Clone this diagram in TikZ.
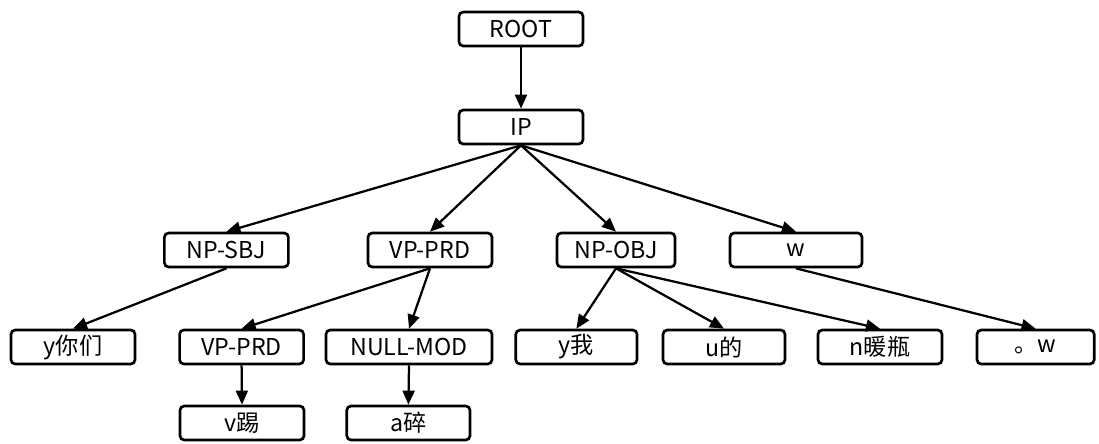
\documentclass[tikz,border=0pt]{standalone}
\usepackage{fontspec}
\setmainfont{Noto Sans CJK SC}
\usepackage{tikz}
\usetikzlibrary{arrows.meta}

\begin{document}
\begin{tikzpicture}
  \def\a{-6.25}
  \def\b{-8.675}
  \def\c{-10.575}
  \tikzset{box/.style={draw,rounded corners=3pt,line width=1.9pt,minimum height=0.85cm,minimum width=3.1cm,inner sep=0pt,font=\fontsize{16.5}{19}\selectfont}}
  \tikzset{transition/.style={-{Triangle[length=10pt,width=8.5pt]},line width=1.6pt}}
  \useasboundingbox (0,0) rectangle (27.475,-11.075);
  \node[box] (root) at (13.025,-0.725) {ROOT};
  \node[box] (ip) at (13.025,-3.175) {IP};
  \node[box] (npSbj) at (5.66,\a) {NP-SBJ};
  \node[box] (vpPrd) at (10.75,\a) {VP-PRD};
  \node[box,minimum width=2.95cm] (npObj) at (15.4,\a) {NP-OBJ};
  \node[box,minimum width=3.3cm] (w) at (19.9,\a) {w};
  \node[box] (yNimen) at (1.825,\b) {y你们};
  \node[box] (vpPrdTwo) at (6.04,\b) {VP-PRD};
  \node[box,minimum width=4.15cm] (nullMod) at (10.225,\b) {NULL-MOD};
  \node[box,minimum width=3.03cm] (yWo) at (14.41,\b) {y我};
  \node[box,minimum width=3.05cm] (uDe) at (18.1,\b) {u的};
  \node[box] (nNuanping) at (22.0,\b) {n暖瓶};
  \node[box,minimum width=2.93cm] (wDot) at (25.89,\b) {。w};
  \node[box] (vTi) at (6.05,\c) {v踢};
  \node[box,minimum width=3.08cm] (aSui) at (10.21,\c) {a碎};
  \draw[transition] (root.south)--(ip.north);
  \draw[transition] (ip.south)--(npSbj.north);
  \draw[transition] (ip.south)--(vpPrd.north);
  \draw[transition] (ip.south)--(npObj.north);
  \draw[transition] (ip.south)--(w.north);
  \draw[transition] (npSbj.south)--(yNimen.north);
  \draw[transition] (vpPrd.south)--(vpPrdTwo.north);
  \draw[transition] (vpPrd.south)--(nullMod.north);
  \draw[transition] (npObj.south)--(yWo.north);
  \draw[transition] (npObj.south)--(uDe.north);
  \draw[transition] (npObj.south)--(nNuanping.north);
  \draw[transition] (w.south)--(wDot.north);
  \draw[transition] (vpPrdTwo.south)--(vTi.north);
  \draw[transition] (nullMod.south)--(aSui.north);
\end{tikzpicture}
\end{document}
